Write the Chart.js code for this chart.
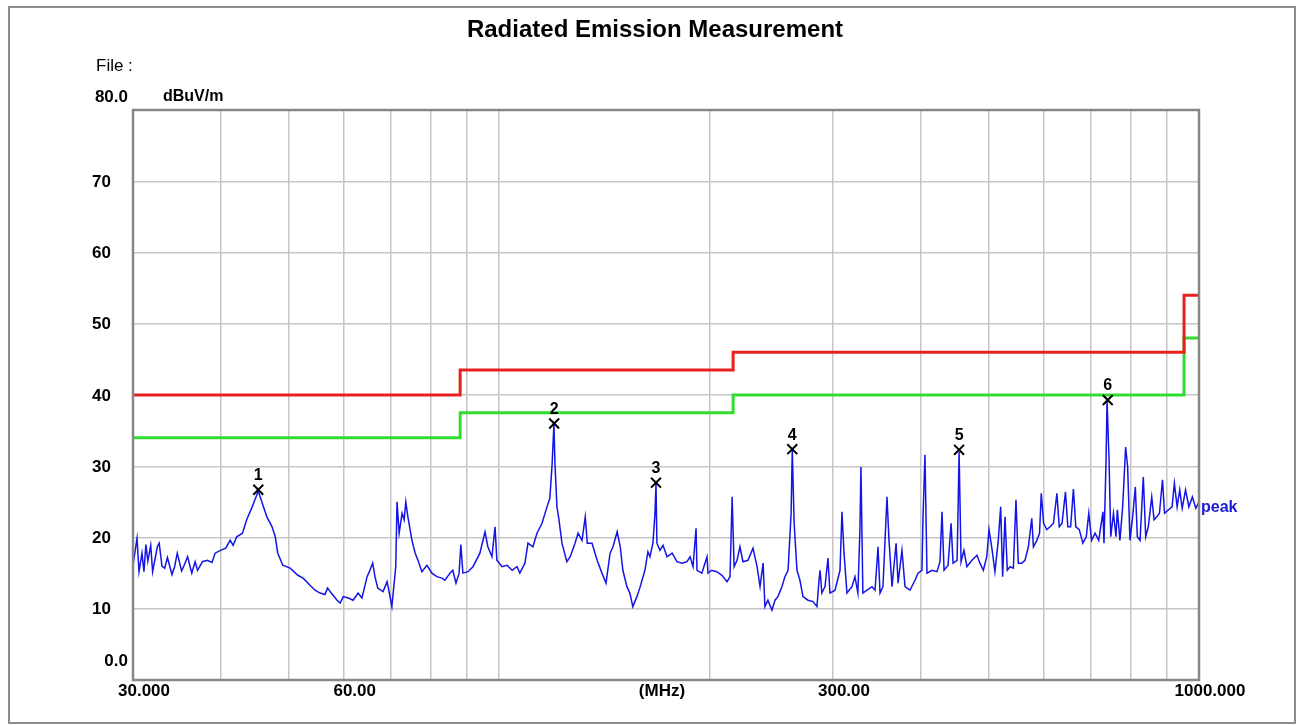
<!DOCTYPE html>
<html>
<head>
<meta charset="utf-8">
<script src="https://cdn.jsdelivr.net/npm/chart.js@4"></script>
<style>
  html, body { margin: 0; padding: 0; background: #fff; }
  #wrap { width: 1297px; height: 725px; }
</style>
</head>
<body>
<div id="wrap"><canvas id="emissionChart" width="1297" height="725"></canvas></div>
<script>
// peak trace (MHz / dBuV/m)
const peakFreq = [
  30.0, 30.4, 30.6, 30.9, 31.1, 31.3, 31.5, 31.8, 32.0, 32.5, 32.7, 33.0, 33.3, 33.6, 34.1, 34.4,
  34.7, 35.2, 35.5, 35.9, 36.4, 36.8, 37.1, 37.7, 38.3, 38.9, 39.3, 40.0, 40.7, 41.3, 41.7, 42.2,
  43.0, 43.6, 44.4, 44.8, 45.3, 45.9, 46.6, 47.4, 47.9, 48.3, 49.1, 50.3, 51.6, 52.5, 53.7,
  54.6, 55.5, 56.4, 56.9, 57.6, 58.7, 59.3, 59.9, 60.9, 61.9, 62.9, 63.7, 64.8, 65.4, 66.0, 66.5,
  67.1, 68.3, 69.2, 69.6, 70.3, 70.6, 71.2, 71.5, 72.0, 72.7, 73.2, 73.6, 74.1, 75.1, 75.9, 76.6,
  77.6, 78.9, 80.2, 81.5, 82.9, 83.7, 85.1, 85.9, 86.8, 87.7, 88.2, 88.8, 90.3, 91.8, 93.9,
  95.5, 96.4, 97.7, 98.7, 99.3, 101.0, 102.7, 104.4, 106.1, 107.1, 108.9, 110.0, 111.8, 113.3, 115.2,
  117.1, 118.2, 119.1, 119.8, 120.2, 121.0, 121.8, 123.0, 125.0, 126.4, 128.4, 129.7, 131.4, 132.8,
  133.7, 135.8, 138.1, 140.3, 142.2, 144.1, 145.5, 147.5, 149.0, 150.3, 152.3, 153.8, 155.3, 157.4,
  159.0, 161.6, 163.2,
  164.3, 165.9, 167.0, 167.6, 168.1, 169.8, 171.5, 173.8, 176.7, 179.6, 182.6, 185.6, 187.5, 189.3,
  191.2, 191.8, 194.9, 198.2, 198.9, 201.3, 204.6, 208.2, 211.7, 213.8, 215.3, 216.7, 218.8, 220.9,
  223.1, 226.8, 230.6, 233.7, 236.0, 238.4, 239.8, 242.2, 245.4, 247.9, 250.3, 253.6, 256.1, 258.8,
  261.4, 262.4, 264.0, 266.5, 269.1, 271.8, 276.3, 280.9, 284.6, 286.5, 287.5, 289.2, 292.2, 295.1,
  297.0, 302.0, 307.0, 309.0, 311.1, 314.1, 319.3, 322.5, 325.6, 327.8, 328.9, 331.0, 335.5, 341.1,
  344.5, 347.9, 350.2, 353.6, 358.3, 360.7, 364.3, 369.2, 371.6, 376.4, 380.2, 386.5, 392.9, 396.8,
  402.0, 403.3, 406.0, 408.7, 415.5, 422.4, 426.6, 429.4, 432.3, 438.0, 442.4, 445.3, 451.2, 452.7,
  454.2, 457.2, 461.5, 466.1, 473.8, 481.7,
  486.5, 492.0, 497.5, 501.2, 505.6, 511.1, 516.7, 520.8, 524.2, 528.3, 532.3, 537.1, 543.0, 547.7,
  551.9, 558.1, 564.2, 570.5, 576.9, 580.0, 586.6, 591.8, 595.2, 599.8, 606.0, 612.8, 619.6, 626.6,
  631.5, 637.3, 644.5, 649.6, 655.6, 661.6, 666.8, 674.5, 682.4, 690.2, 695.9, 702.4, 710.4, 719.0,
  729.1, 731.6, 736.6, 739.0, 743.9, 748.0, 754.8, 761.0, 764.4, 771.0, 777.9, 785.6, 790.8, 796.8,
  803.9, 811.0, 816.4, 823.7, 832.6, 839.2, 846.4, 856.0, 862.6, 870.4, 878.0, 886.8, 892.8, 904.7,
  915.2, 922.2, 930.6, 938.6, 946.2, 956.7, 967.3, 978.4, 989.5, 1000
];
const peakLevel = [
  16.1, 19.9, 15.2, 17.8, 15.2, 19.0, 16.7, 18.9, 15.2, 18.7, 19.2, 16.0, 15.7, 17.2, 14.8, 15.9,
  17.8, 15.3, 16.1, 17.3, 15.0, 16.6, 15.4, 16.6, 16.8, 16.5, 17.8, 18.2, 18.5, 19.6, 18.9, 20.1,
  20.6, 22.5, 24.3, 25.3, 26.5, 24.8, 22.9, 21.5, 20.1, 17.8, 16.1, 15.7, 14.7, 14.3, 13.3,
  12.6, 12.2, 12.0, 12.9, 12.2, 11.2, 10.8, 11.7, 11.5, 11.2, 12.2, 11.5, 14.5, 15.4, 16.4, 14.5,
  12.9, 12.4, 13.8, 12.6, 10.3, 12.2, 15.9, 25.0, 20.6, 23.4, 22.5, 25.0, 22.9, 19.6, 17.8, 16.8,
  15.2, 16.1, 15.0, 14.5, 14.3, 14.0, 15.0, 15.4, 13.6, 15.0, 19.0, 15.0, 15.2, 15.9, 17.8,
  20.8, 18.7, 17.3, 21.5, 16.8, 15.9, 16.1, 15.4, 15.9, 15.0, 16.4, 19.2, 18.7, 20.6, 22.0,
  24.3, 25.5, 30.4, 35.9, 30.4, 24.3, 22.5, 19.2, 16.6, 17.3, 19.2, 20.6, 19.6, 22.9,
  19.2, 19.2, 16.8, 15.0, 13.6, 17.8, 18.7, 20.8, 18.7, 15.4, 13.1, 12.2, 10.3, 11.7,
  13.0, 15.4, 18.0,
  17.3, 19.2, 23.2, 27.6, 19.2, 18.2, 18.9, 17.3, 17.8, 16.6, 16.4, 16.6, 17.3, 15.9,
  21.3, 15.4, 15.0, 17.3, 15.0, 15.4, 15.2, 14.7, 13.8, 14.5, 25.7, 15.9, 16.8, 18.7,
  16.6, 16.8, 18.5, 15.9, 13.1, 16.4, 10.3, 11.2, 9.8, 11.2, 11.7, 13.1, 14.5, 15.4,
  23.4, 32.4, 22.0, 15.4, 14.0, 11.7, 11.2, 11.0, 10.3, 14.0, 15.4, 12.2, 13.1, 17.1,
  12.2, 12.6, 15.4, 23.6, 17.8, 12.2, 13.1, 14.5, 12.2, 21.1, 29.9, 12.2, 12.6, 13.1,
  12.6, 18.7, 12.2, 13.1, 25.7, 19.6, 13.1, 19.2, 13.6, 18.2, 13.1, 12.6, 14.0, 15.0,
  15.4, 22.5, 31.6, 15.0, 15.4, 15.2, 16.6, 23.6, 15.4, 16.1, 22.0, 16.4, 16.8, 23.9,
  32.0, 16.6, 18.2, 15.9, 16.8, 17.5,
  16.4, 15.4, 17.3, 21.1, 18.7, 15.2, 19.6, 24.3, 14.5, 22.9, 15.4, 15.9, 15.7, 25.3,
  16.4, 16.4, 16.8, 18.7, 22.7, 18.7, 19.6, 20.6, 26.2, 22.0, 21.1, 21.5, 22.0, 26.2,
  21.5, 22.0, 26.4, 21.5, 21.5, 26.8, 21.5, 21.1, 19.2, 20.1, 23.4, 19.6, 20.6, 19.6,
  23.6, 19.2, 30.9, 39.3, 30.9, 20.1, 23.4, 20.1, 23.9, 19.6, 24.3, 32.7, 29.9, 19.6,
  22.9, 27.1, 20.1, 19.6, 28.5, 20.1, 21.5, 25.7, 22.5, 22.9, 23.4, 28.1, 23.4, 23.9,
  24.3, 27.6, 24.3, 26.7, 24.1, 26.7, 24.3, 25.7, 24.1, 25.0
];

// limit lines (class B) and the -6 dB margin line
const limitFreq = [30, 88, 88, 216, 216, 952, 952, 1000];
const limitLevel = [40, 40, 43.5, 43.5, 46, 46, 54, 54];
const marginLevel = [34, 34, 37.5, 37.5, 40, 40, 48, 48];

// marked peaks 1..6
const markerFreq = [45.3, 119.9, 167.6, 262.4, 454.2, 740.7];
const markerLevel = [26.7, 36.0, 27.7, 32.4, 32.3, 39.3];

const xGridValues = [30, 40, 50, 60, 70, 80, 90, 100, 200, 300, 400, 500, 600, 700, 800, 900, 1000];
const xTickValues = [30, 60, 300, 1000];
const xTickLabels = ["30.000", "60.00", "300.00", "1000.000"];
const yTickValues = [0, 10, 20, 30, 40, 50, 60, 70, 80];
const yTickLabels = ["0.0", "10", "20", "30", "40", "50", "60", "70", "80.0"];

const toPoints = (xs, ys) => xs.map((x, i) => ({ x: x, y: ys[i] }));
const FONT = "'Liberation Sans', Arial, sans-serif";

const decor = {
    id: "decor",
    beforeDraw(chart) {
        const ctx = chart.ctx;
        ctx.save();
        ctx.fillStyle = "#fff";
        ctx.fillRect(0, 0, chart.width, chart.height);
        ctx.strokeStyle = "#8c8c8c";
        ctx.lineWidth = 2;
        ctx.strokeRect(9, 7, 1286, 716);
        ctx.restore();
    },
    afterDatasetsDraw(chart) {
        const { ctx, chartArea: a } = chart;
        ctx.save();
        ctx.strokeStyle = "#878787";
        ctx.lineWidth = 2.5;
        ctx.strokeRect(a.left, a.top, a.right - a.left, a.bottom - a.top);
        ctx.restore();
    },
    afterDraw(chart) {
        const { ctx, chartArea: a } = chart;
        const xs = chart.scales.x;
        const ys = chart.scales.y;
        ctx.save();
        ctx.fillStyle = "#000";
        ctx.textBaseline = "middle";

        ctx.font = "bold 24px " + FONT;
        ctx.textAlign = "center";
        ctx.fillText("Radiated Emission Measurement", 655, 30);

        ctx.font = "17px " + FONT;
        ctx.textAlign = "left";
        ctx.fillText("File :", 96, 66);

        ctx.font = "bold 16px " + FONT;
        ctx.fillText("dBuV/m", 163, 97);

        // y labels
        ctx.font = "bold 17px " + FONT;
        yTickValues.forEach((v, i) => {
            const py = ys.getPixelForValue(v);
            if (v === 80) {
                ctx.textAlign = "right";
                ctx.fillText(yTickLabels[i], 128, py - 13);
            } else if (v === 0) {
                ctx.textAlign = "right";
                ctx.fillText(yTickLabels[i], 128, py - 19);
            } else {
                ctx.textAlign = "left";
                ctx.fillText(yTickLabels[i], 92, py + 1);
            }
        });

        // x labels
        ctx.textAlign = "center";
        xTickValues.forEach((v, i) => {
            ctx.fillText(xTickLabels[i], xs.getPixelForValue(v) + 11, a.bottom + 11);
        });
        ctx.fillText("(MHz)", (a.left + a.right) / 2 - 4, a.bottom + 11);

        // marker numbers
        ctx.font = "bold 16px " + FONT;
        markerFreq.forEach((f, i) => {
            ctx.fillText(String(i + 1), xs.getPixelForValue(f), ys.getPixelForValue(markerLevel[i]) - 14);
        });

        // trace name
        ctx.fillStyle = "#1a1ad6";
        ctx.textAlign = "left";
        ctx.fillText("peak", a.right + 2, ys.getPixelForValue(peakLevel[peakLevel.length - 1]) + 6);
        ctx.restore();
    },
};

new Chart(document.getElementById("emissionChart"), {
    type: "line",
    data: {
        datasets: [
            {
                label: "markers",
                data: toPoints(markerFreq, markerLevel),
                showLine: false,
                pointStyle: "crossRot",
                pointRadius: 7,
                pointBorderWidth: 2,
                pointBorderColor: "#000",
            },
            {
                label: "peak",
                data: toPoints(peakFreq, peakLevel),
                borderColor: "#1414e6",
                borderWidth: 1.5,
                pointRadius: 0,
                tension: 0,
            },
            {
                label: "limit",
                data: toPoints(limitFreq, limitLevel),
                borderColor: "#e8211e",
                borderWidth: 3,
                pointRadius: 0,
            },
            {
                label: "margin",
                data: toPoints(limitFreq, marginLevel),
                borderColor: "#2fdc2f",
                borderWidth: 3,
                pointRadius: 0,
            },
        ],
    },
    options: {
        responsive: false,
        animation: false,
        layout: { padding: { left: 133, right: 98, top: 110, bottom: 45 } },
        plugins: {
            legend: { display: false },
            tooltip: { enabled: false },
        },
        scales: {
            x: {
                type: "logarithmic",
                min: 30,
                max: 1000,
                afterBuildTicks: (s) => { s.ticks = xGridValues.map((v) => ({ value: v })); },
                ticks: { display: false },
                grid: { color: "#c6c6c6", lineWidth: 1.5, drawTicks: false },
                border: { display: false },
            },
            y: {
                min: 0,
                max: 80,
                afterBuildTicks: (s) => { s.ticks = yTickValues.map((v) => ({ value: v })); },
                ticks: { display: false },
                grid: { color: "#c6c6c6", lineWidth: 1.5, drawTicks: false },
                border: { display: false },
            },
        },
    },
    plugins: [decor],
});
</script>
</body>
</html>
